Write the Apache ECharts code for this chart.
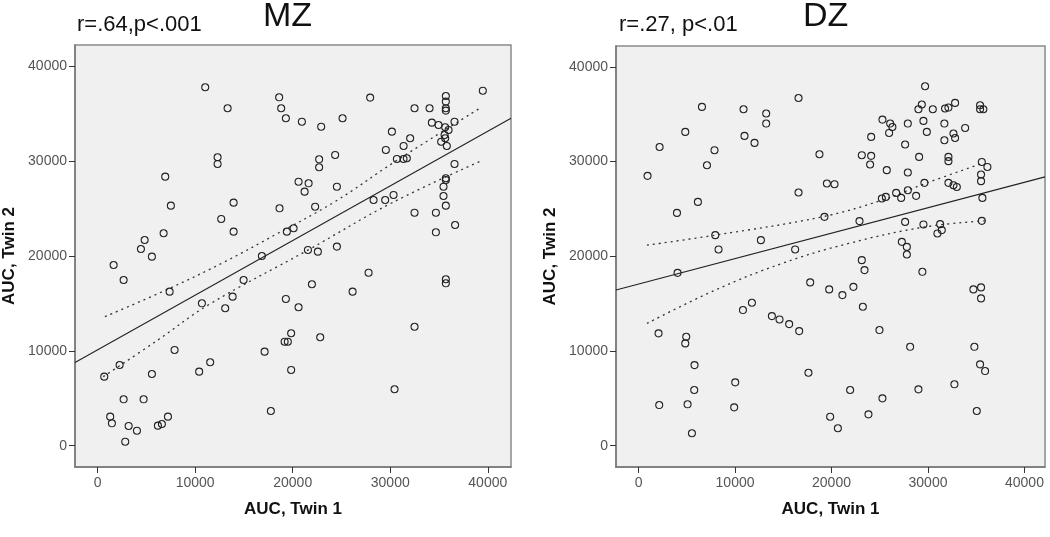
<!DOCTYPE html>
<html>
<head>
<meta charset="utf-8">
<script src="https://cdn.jsdelivr.net/npm/echarts@6/dist/echarts.min.js"></script>
<style>
html,body{margin:0;padding:0;background:#fff;}
#c{width:1050px;height:537px;}
</style>
</head>
<body>
<div id="c"></div>
<script>
// ---------- Tick labels ----------
const tickValues = [0, 10000, 20000, 30000, 40000];

// ---------- MZ panel data ----------
const mzX = [11030,13325,18610,18820,19300,12300,12300,6930,7510,13940,12670,13940,18650,6765,4820,4440,5565,1640,19400,20090,16840,2665,7380,14965,13840,10690,13080,19300,7890,2255,680,5565,10410,11540,17120,19170,19500,19840,19840,17760,2665,4715,1290,1465,3180,4030,6180,6590,7210,2830,20940,22920,25110,27940,32490,34030,35700,35700,35700,35700,39490,34265,34950,35630,35980,36590,35570,35220,35800,35630,30170,32040,31370,29550,30680,31360,31700,24350,22710,22710,20600,21630,21220,24530,36590,35700,35700,35460,35460,35700,32490,34680,34680,36650,22300,28290,29480,30340,21560,22580,24530,27780,21970,26140,35700,35700,20600,22820,32490,30440];
const mzY = [37810,35600,36750,35600,34540,30430,29720,28380,25320,25640,23920,22580,25040,22410,21700,20750,19940,19060,22580,22940,20010,17480,16250,17480,15720,15020,14500,15480,10100,8510,7280,7560,7810,8800,9920,10970,10970,11860,7990,3660,4890,4890,3060,2360,2080,1580,2110,2290,3060,420,34180,33650,34540,36720,35600,35600,36890,36300,35600,35350,37450,34080,33830,33590,33310,34180,32780,32070,31620,32430,33130,32430,31620,31200,30250,30250,30320,30670,30210,29370,27850,27680,26800,27320,29720,28210,28030,27320,26340,25320,24580,24580,22510,23280,25210,25920,25920,26450,20650,20470,21000,18250,17030,16250,17560,17130,14600,11440,12550,5950];
const mzFitX = [-2320, 42380];
const mzFitY = [8780, 34540];
const mzUpperX = [750, 7410, 13050, 18170, 24320, 30470, 39190];
const mzUpperY = [13610, 16610, 19410, 22230, 25740, 29960, 35600];
const mzLowerX = [570, 6180, 11340, 21590, 30140, 39520];
const mzLowerY = [7280, 11150, 14840, 20650, 25600, 30140];

// ---------- DZ panel data ----------
const dzX = [29700,6570,10880,13230,13230,16580,4840,2180,10980,12020,7870,7090,930,6150,3980,18750,16580,19520,20310,7950,8290,12680,16230,4040,19270,22900,2070,4940,4840,10820,11750,13820,14610,15610,16650,17790,19760,21130,22270,23250,23140,23420,24970,28150,34810,34710,35500,35500,29420,27290,27810,27810,27630,29530,31260,30980,31430,35580,35640,35500,35500,35580,36160,32120,32640,32990,29630,25220,25630,26700,27220,27910,28770,25730,27910,29080,32120,32120,23140,24110,24000,24110,25280,26080,26310,25970,27910,27630,29530,29880,29360,29010,30500,31700,31700,32640,32810,33850,31770,32120,32810,35400,35740,35400,5800,5770,2140,5080,5530,10020,9910,17610,21930,25280,19860,20660,23830,29010,32740,35400,35920,35060];
const dzY = [37950,35770,35520,35070,34010,36710,33130,31540,32710,31970,31200,29610,28490,25740,24580,30770,26730,27680,27610,22230,20720,21700,20720,18250,24160,23710,11860,11500,10800,14320,15090,13680,13330,12840,12100,17240,16500,15900,16770,14670,19590,18540,12210,10440,10440,16500,16710,15550,18360,21520,20990,20190,23630,23360,23390,22410,22760,23740,26160,28630,27930,29960,29430,27750,27500,27320,27750,26100,26270,26690,26160,26970,26380,29090,28840,30490,30490,30040,30670,30600,29690,32600,34430,34010,33650,33020,34010,31800,34290,33130,36020,35520,35520,34010,32250,32960,32490,33550,35600,35700,36190,35940,35520,35520,8510,5880,4290,4370,1310,6690,4050,7700,5880,5000,3060,1840,3310,5950,6480,8590,7880,3660];
const dzFitX = [-2340, 42130];
const dzFitY = [16430, 28380];
const dzUpperX = [870, 7950, 19000, 25220, 29720, 35580];
const dzUpperY = [21170, 22230, 24160, 25920, 27680, 29790];
const dzLowerX = [870, 7950, 14860, 21760, 29720, 35920];
const dzLowerY = [12910, 16430, 19240, 21350, 23100, 23740];

const zip = (xs, ys) => xs.map((x, i) => [x, ys[i]]);

const FONT = '"Liberation Sans", Arial, sans-serif';

function xAxisCfg(grid, min, max) {
  return {
    type: 'value', gridIndex: grid, min: min, max: max,
    name: 'AUC, Twin 1', nameLocation: 'middle', nameGap: 34,
    nameTextStyle: {fontFamily: FONT, fontSize: 17, fontWeight: 'bold', color: '#111'},
    axisLine: {show: true, onZero: false, lineStyle: {color: '#777', width: 1.5}},
    axisTick: {show: true, inside: false, length: 6, customValues: tickValues, lineStyle: {color: '#333', width: 1}},
    axisLabel: {show: true, margin: 9, customValues: tickValues, formatter: v => String(v), fontFamily: FONT, fontSize: 14, color: '#555'},
    splitLine: {show: false}
  };
}
function yAxisCfg(grid, min, max) {
  return {
    type: 'value', gridIndex: grid, min: min, max: max,
    name: 'AUC, Twin 2', nameLocation: 'middle', nameGap: 57, nameRotate: 90,
    nameTextStyle: {fontFamily: FONT, fontSize: 17, fontWeight: 'bold', color: '#111'},
    axisLine: {show: true, onZero: false, lineStyle: {color: '#777', width: 1.5}},
    axisTick: {show: true, inside: false, length: 6, customValues: tickValues, lineStyle: {color: '#333', width: 1}},
    axisLabel: {show: true, margin: 8, customValues: tickValues, formatter: v => String(v), fontFamily: FONT, fontSize: 14, color: '#555'},
    splitLine: {show: false}
  };
}

function scatterSeries(idx, data) {
  return {
    type: 'scatter', xAxisIndex: idx, yAxisIndex: idx, data: data,
    symbol: 'circle', symbolSize: 7,
    itemStyle: {color: 'rgba(0,0,0,0)', borderColor: '#222', borderWidth: 1.1, opacity: 1},
    emphasis: {disabled: true}, silent: true, z: 3
  };
}
function lineSeries(idx, data, dashed) {
  return {
    type: 'line', xAxisIndex: idx, yAxisIndex: idx, data: data,
    showSymbol: false, smooth: dashed ? 0.4 : false, clip: true, silent: true,
    lineStyle: {color: dashed ? '#333' : '#222', width: dashed ? 1.3 : 1.1, type: dashed ? [2, 4] : 'solid'},
    z: 2
  };
}

const chart = echarts.init(document.getElementById('c'), null, {renderer: 'canvas'});
chart.setOption({
  animation: false,
  backgroundColor: '#ffffff',
  grid: [
    {left: 73, top: 45, width: 438, height: 422, show: true, backgroundColor: '#f0f0f0', borderColor: '#8a8a8a', borderWidth: 1.5},
    {left: 616, top: 46, width: 429, height: 421, show: true, backgroundColor: '#f0f0f0', borderColor: '#8a8a8a', borderWidth: 1.5}
  ],
  xAxis: [xAxisCfg(0, -2320, 42380), xAxisCfg(1, -2340, 42130)],
  yAxis: [yAxisCfg(0, -2250, 42270), yAxisCfg(1, -2250, 42200)],
  series: [
    lineSeries(0, zip(mzFitX, mzFitY), false),
    lineSeries(0, zip(mzUpperX, mzUpperY), true),
    lineSeries(0, zip(mzLowerX, mzLowerY), true),
    scatterSeries(0, zip(mzX, mzY)),
    lineSeries(1, zip(dzFitX, dzFitY), false),
    lineSeries(1, zip(dzUpperX, dzUpperY), true),
    lineSeries(1, zip(dzLowerX, dzLowerY), true),
    scatterSeries(1, zip(dzX, dzY))
  ],
  graphic: [
    {type: 'text', left: 77, top: 14, style: {text: 'r=.64,p<.001', font: '22px "Liberation Sans", Arial, sans-serif', fill: '#111'}},
    {type: 'text', left: 263, top: 0, style: {text: 'MZ', font: '34px "Liberation Sans", Arial, sans-serif', fill: '#111'}},
    {type: 'text', left: 619, top: 14, style: {text: 'r=.27, p<.01', font: '22px "Liberation Sans", Arial, sans-serif', fill: '#111'}},
    {type: 'text', left: 803, top: 0, style: {text: 'DZ', font: '34px "Liberation Sans", Arial, sans-serif', fill: '#111'}}
  ]
});
</script>
</body>
</html>
